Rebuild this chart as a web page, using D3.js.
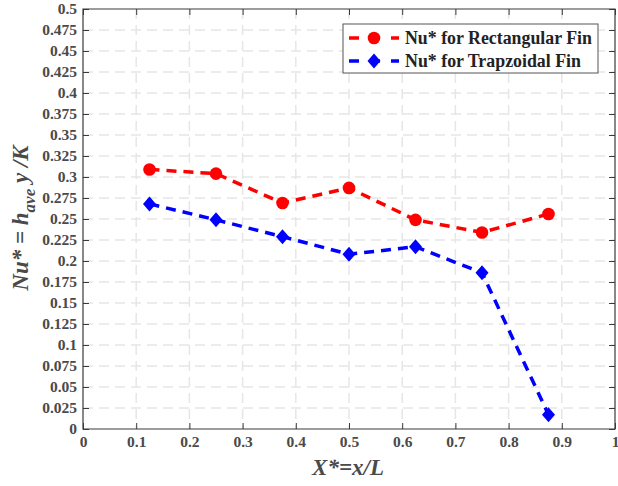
<!DOCTYPE html>
<html>
<head>
<meta charset="utf-8">
<script src="https://cdn.jsdelivr.net/npm/d3@7"></script>
<style>
  body { margin: 0; background: #fff; }
  svg { display: block; }
</style>
</head>
<body>
<div id="vis"></div>
<script>
const xPos = [0.125, 0.25, 0.375, 0.5, 0.625, 0.75, 0.875];
const nuRect = [0.309, 0.304, 0.269, 0.287, 0.249, 0.234, 0.256];
const nuTrap = [0.268, 0.249, 0.229, 0.208, 0.217, 0.186, 0.017];
const xTicks = [0, 0.1, 0.2, 0.3, 0.4, 0.5, 0.6, 0.7, 0.8, 0.9, 1];
const yTicks = d3.range(0, 21).map(i => i * 0.025);
const legendLabels = ['Nu* for Rectangular Fin', 'Nu* for Trapzoidal Fin'];

const W = 618, H = 486;
const font = '"Times New Roman", "Liberation Serif", "DejaVu Serif", serif';
const pLeft = 83, pRight = 615, pTop = 9, pBottom = 429;

var svg = d3.select('#vis').append('svg').attr('width', W).attr('height', H);

const x = d3.scaleLinear().domain([0, 1]).range([pLeft, pRight]);
const y = d3.scaleLinear().domain([0, 0.5]).range([pBottom, pTop]);

// grid
svg.append('g').selectAll('line').data(xTicks.slice(1, -1)).join('line')
  .attr('x1', d => x(d)).attr('x2', d => x(d))
  .attr('y1', pTop).attr('y2', pBottom)
  .attr('stroke', '#e6e6e6').attr('stroke-width', 1.5).attr('stroke-dasharray', '10,6');
svg.append('g').selectAll('line').data(yTicks.slice(1, -1)).join('line')
  .attr('x1', pLeft).attr('x2', pRight)
  .attr('y1', d => y(d)).attr('y2', d => y(d))
  .attr('stroke', '#e6e6e6').attr('stroke-width', 1.5).attr('stroke-dasharray', '10,6');

// axes, ticks inside
const axColor = '#3a3a3a';
const styleAxis = g => {
  g.select('.domain').remove();
  g.selectAll('.tick line').attr('stroke', axColor).attr('stroke-width', 1);
  g.selectAll('.tick text').attr('fill', '#4a4a4a')
    .style('font-family', font).style('font-size', '15.5px').style('font-weight', 'bold');
};
svg.append('g').attr('transform', `translate(0,${pBottom})`)
  .call(d3.axisBottom(x).tickValues(xTicks).tickFormat(d3.format('')).tickSizeInner(-6).tickPadding(7))
  .call(styleAxis);
svg.append('g').attr('transform', `translate(0,${pTop})`)
  .call(d3.axisTop(x).tickValues(xTicks).tickFormat('').tickSizeInner(-6))
  .call(styleAxis);
svg.append('g').attr('transform', `translate(${pLeft},0)`)
  .call(d3.axisLeft(y).tickValues(yTicks).tickFormat(d3.format('')).tickSizeInner(-6).tickPadding(6))
  .call(styleAxis);
svg.append('g').attr('transform', `translate(${pRight},0)`)
  .call(d3.axisRight(y).tickValues(yTicks).tickFormat('').tickSizeInner(-6))
  .call(styleAxis);

// frame
svg.append('path')
  .attr('d', `M${pLeft},${pTop}H${pRight}V${pBottom}H${pLeft}Z`)
  .attr('fill', 'none').attr('stroke', axColor).attr('stroke-width', 1.2);

// series
const diamond = 'M0,-7.5L6.5,0L0,7.5L-6.5,0Z';
const circle = d3.symbol().type(d3.symbolCircle).size(125)();
const line = d3.line().x(d => x(d[0])).y(d => y(d[1]));
const series = [
  { vals: nuRect, color: '#ff0000', sym: circle },
  { vals: nuTrap, color: '#0000ff', sym: diamond }
];
series.forEach(s => {
  const pts = xPos.map((v, i) => [v, s.vals[i]]);
  svg.append('path').attr('d', line(pts))
    .attr('fill', 'none').attr('stroke', s.color).attr('stroke-width', 3.5)
    .attr('stroke-dasharray', '10,7');
  svg.append('g').selectAll('path').data(pts).join('path')
    .attr('transform', d => `translate(${x(d[0])},${y(d[1])})`)
    .attr('d', s.sym)
    .attr('fill', s.color);
});

// legend
const lg = svg.append('g').attr('transform', 'translate(343,24)');
lg.append('rect').attr('width', 255).attr('height', 49)
  .attr('fill', '#fff').attr('stroke', '#555').attr('stroke-width', 1);
series.forEach((s, i) => {
  const cy = 14 + i * 23;
  lg.append('line').attr('x1', 6).attr('x2', 56).attr('y1', cy).attr('y2', cy)
    .attr('stroke', s.color).attr('stroke-width', 3.5).attr('stroke-dasharray', '10,11');
  lg.append('path').attr('transform', `translate(31,${cy})`)
    .attr('d', s.sym).attr('fill', s.color);
  lg.append('text').attr('x', 62).attr('y', cy + 6)
    .attr('textLength', 187).attr('lengthAdjust', 'spacingAndGlyphs')
    .style('font-family', font).style('font-size', '18px').style('font-weight', 'bold')
    .attr('fill', '#222').text(legendLabels[i]);
});
lg.selectAll('text').filter((d, i) => i === 1).attr('textLength', 176);

// axis titles
svg.append('text').attr('x', 348).attr('y', 475).attr('text-anchor', 'middle')
  .style('font-family', font).style('font-size', '23px').style('font-weight', 'bold')
  .style('font-style', 'italic').attr('fill', '#4a4a4a').text('X*=x/L');

const yl = svg.append('text').attr('transform', 'translate(28,218) rotate(-90)')
  .attr('text-anchor', 'middle')
  .style('font-family', font).style('font-size', '23px').style('font-weight', 'bold')
  .style('font-style', 'italic').attr('fill', '#4a4a4a');
yl.append('tspan').text('Nu* = h');
yl.append('tspan').attr('dy', 7).style('font-size', '17px').text('ave');
yl.append('tspan').attr('dy', -7).text(' y /K');
</script>
</body>
</html>
